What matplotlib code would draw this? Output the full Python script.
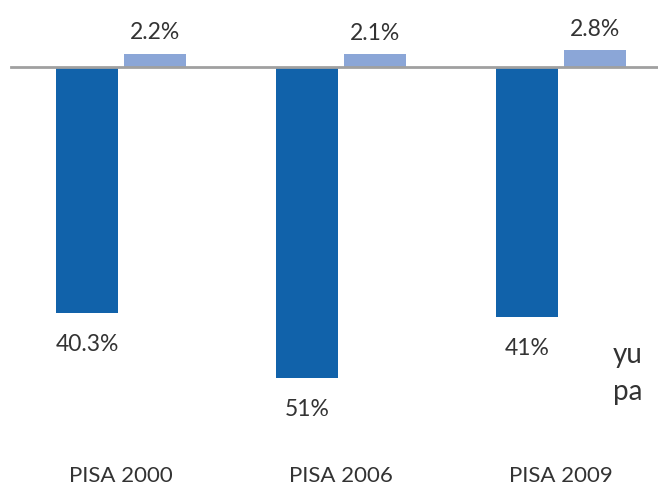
import matplotlib.pyplot as plt
import numpy as np

plt.rcParams['font.family'] = ['Lato', 'DejaVu Sans']

categories = ["PISA 2000", "PISA 2006", "PISA 2009"]
dark_vals = [-40.3, -51.0, -41.0]
dark_labels = ["40.3%", "51%", "41%"]
light_vals = [2.2, 2.1, 2.8]
light_labels = ["2.2%", "2.1%", "2.8%"]

W, H = 658, 487
fig = plt.figure(figsize=(W / 100, H / 100), dpi=100)
ax = fig.add_axes([0, 0, 1, 1])

px_per_cat = 220.0
px_per_pct = 6.1
x0_px = 121.0
base_px = 67.0

ax.set_xlim(-x0_px / px_per_cat, (W - x0_px) / px_per_cat)
ax.set_ylim(-(H - base_px) / px_per_pct, base_px / px_per_pct)
ax.axis("off")

x = np.arange(len(categories))
bw = 62 / px_per_cat
off = 34 / px_per_cat

ax.bar(x - off, dark_vals, bw, color="#1162aa", zorder=2)
ax.bar(x + off, light_vals, bw, color="#8ba6d7", zorder=2)
ax.axhline(0, xmin=11 / W, xmax=1, color="#a0a0a0", lw=2, zorder=3)

txt = "#333333"
fs = 16.5
for i in range(len(categories)):
    ax.annotate(dark_labels[i], (x[i] - off, dark_vals[i]), xytext=(0, -22.5),
                textcoords="offset points", ha="center", va="center", fontsize=fs, color=txt)
    ax.annotate(light_labels[i], (x[i] + off, light_vals[i]), xytext=(0, 15),
                textcoords="offset points", ha="center", va="center", fontsize=fs, color=txt)
    ax.text(x[i], -(476 - base_px) / px_per_pct, categories[i], ha="center", va="center",
            fontsize=16, color=txt)

# legend text, cut off by the right edge
ax.text(613 / W, 1 - 355 / H, "yu", transform=ax.transAxes, fontsize=20, color=txt,
        ha="left", va="center")
ax.text(613 / W, 1 - 392 / H, "pa", transform=ax.transAxes, fontsize=20, color=txt,
        ha="left", va="center")

fig.savefig("out.png", dpi=100)
